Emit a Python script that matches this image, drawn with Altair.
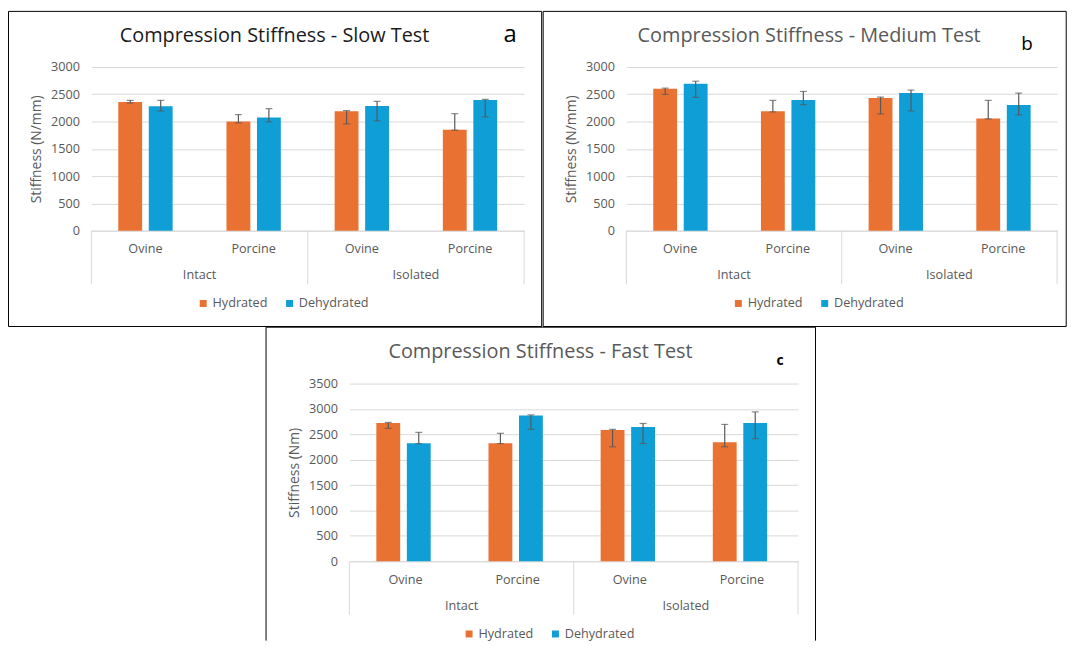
import altair as alt
import pandas as pd

# ---------------- data ----------------
groups = ["Intact", "Intact", "Isolated", "Isolated"]
species = ["Ovine", "Porcine", "Ovine", "Porcine"]
conditions = ["Hydrated", "Dehydrated"]
colors = ["#E97132", "#0F9ED5"]

# Slow test (a)
slow_hyd = [2358, 2000, 2188, 1848]
slow_hyd_lo = [2339, 1976, 1957, 1842]
slow_hyd_hi = [2388, 2127, 2200, 2145]
slow_deh = [2279, 2073, 2285, 2394]
slow_deh_lo = [2194, 1994, 2012, 2085]
slow_deh_hi = [2388, 2236, 2370, 2406]

# Medium test (b)
med_hyd = [2600, 2188, 2430, 2054]
med_hyd_lo = [2497, 2176, 2139, 2048]
med_hyd_hi = [2612, 2388, 2448, 2388]
med_deh = [2691, 2394, 2521, 2303]
med_deh_lo = [2442, 2309, 2194, 2121]
med_deh_hi = [2739, 2551, 2576, 2521]

# Fast test (c)
fast_hyd = [2721, 2325, 2585, 2344]
fast_hyd_lo = [2617, 2318, 2253, 2253]
fast_hyd_hi = [2734, 2520, 2598, 2695]
fast_deh = [2325, 2870, 2643, 2721]
fast_deh_lo = [2318, 2598, 2318, 2416]
fast_deh_hi = [2539, 2883, 2714, 2942]

ticks_3000 = [0, 500, 1000, 1500, 2000, 2500, 3000]
ticks_3500 = [0, 500, 1000, 1500, 2000, 2500, 3000, 3500]

titles = ["Compression Stiffness - Slow Test",
          "Compression Stiffness - Medium Test",
          "Compression Stiffness - Fast Test"]
letters = ["a", "b", "c"]
y_titles = ["Stiffness (N/mm)", "Stiffness (N/mm)", "Stiffness (Nm)"]

FONT = "Open Sans"
GREY = "#595959"
GRID = "#d9d9d9"
LBL = 12.75

keys = [g + "|" + s for g, s in zip(groups, species)]


def make_df(hyd, hyd_lo, hyd_hi, deh, deh_lo, deh_hi):
    rows = []
    for i in range(len(keys)):
        rows.append(dict(key=keys[i], cond=conditions[0], value=hyd[i], lo=hyd_lo[i], hi=hyd_hi[i]))
        rows.append(dict(key=keys[i], cond=conditions[1], value=deh[i], lo=deh_lo[i], hi=deh_hi[i]))
    return pd.DataFrame(rows)


def panel(df, title, title_color, letter, letter_size, letter_weight, letter_xy,
          ymax, yticks, ytitle, w, h, pi, po, box, title_x, legend_x,
          open_box=False):
    xscale = alt.Scale(domain=keys, paddingInner=0, paddingOuter=0)
    xaxis = alt.Axis(labelExpr="split(datum.label, '|')[1]", labelAngle=0,
                     labelFont=FONT, labelFontSize=LBL, labelColor=GREY,
                     ticks=False, tickSize=0, domain=True, domainColor=GRID,
                     domainWidth=1, labelPadding=12, grid=False, title=None)

    def X(bp=None):
        kw = dict(scale=xscale, axis=xaxis, title=None)
        if bp is not None:
            kw["bandPosition"] = bp
        return alt.X("key:N", **kw)

    yscale = alt.Scale(domain=[0, ymax], nice=False, zero=True)
    yaxis = alt.Axis(values=yticks, format="d", labelFont=FONT, labelFontSize=LBL,
                     labelColor=GREY, domain=False, ticks=False, tickSize=0,
                     labelPadding=12, grid=True, gridColor=GRID, gridWidth=1,
                     titleFont=FONT, titleFontSize=14, titleFontWeight="normal",
                     titleColor=GREY, titlePadding=7)

    def Y(field):
        return alt.Y(field, scale=yscale, axis=yaxis, title=ytitle)

    xoff = alt.XOffset("cond:N", scale=alt.Scale(domain=conditions, paddingInner=pi, paddingOuter=po))

    bars = alt.Chart(df).mark_bar().encode(
        x=X(), xOffset=xoff, y=Y("value:Q"),
        color=alt.Color("cond:N", scale=alt.Scale(domain=conditions, range=colors),
                        legend=alt.Legend(title=None, orient="none", direction="horizontal",
                                          legendX=legend_x, legendY=h + 66.5,
                                          symbolType="square", symbolSize=49,
                                          symbolStrokeWidth=0, labelFont=FONT,
                                          labelFontSize=LBL, labelColor=GREY,
                                          labelOffset=3, columnPadding=15, padding=0)),
    )
    err = alt.Chart(df).mark_rule(color=GREY, strokeWidth=1.2).encode(
        x=X(), xOffset=xoff, y=Y("lo:Q"), y2="hi:Q")
    cap_lo = alt.Chart(df).mark_tick(color=GREY, size=7, thickness=1.2).encode(
        x=X(), xOffset=xoff, y=Y("lo:Q"))
    cap_hi = alt.Chart(df).mark_tick(color=GREY, size=7, thickness=1.2).encode(
        x=X(), xOffset=xoff, y=Y("hi:Q"))

    first_keys = [k for i, k in enumerate(keys) if i == 0 or groups[i] != groups[i - 1]]
    first_groups = [groups[keys.index(k)] for k in first_keys]
    sep_df = pd.DataFrame({"key": first_keys})
    end_df = pd.DataFrame({"key": [keys[-1]]})
    grp_df = pd.DataFrame({"key": first_keys, "label": first_groups})

    sep = alt.Chart(sep_df).mark_rule(color=GRID, strokeWidth=1).encode(
        x=X(0), y=alt.value(h), y2=alt.value(h + 54))
    sep_end = alt.Chart(end_df).mark_rule(color=GRID, strokeWidth=1).encode(
        x=X(1), y=alt.value(h), y2=alt.value(h + 54))
    grp = alt.Chart(grp_df).mark_text(font=FONT, fontSize=LBL, color=GREY,
                                      baseline="middle", align="center").encode(
        x=X(1), y=alt.value(h + 45), text="label:N")

    tdf = pd.DataFrame({"title": [title], "letter": [letter]})
    ttl = alt.Chart(tdf).mark_text(font=FONT, fontSize=20, color=title_color,
                                   align="center", baseline="middle").encode(
        x=alt.value(title_x), y=alt.value(-31.5), text="title:N")
    let = alt.Chart(tdf).mark_text(font=FONT, fontSize=letter_size, color="#000000",
                                   fontWeight=letter_weight, align="center",
                                   baseline="middle").encode(
        x=alt.value(letter_xy[0]), y=alt.value(letter_xy[1]), text="letter:N")

    layers = [bars, err, cap_lo, cap_hi, sep, sep_end, grp, ttl, let]
    if not open_box:
        layers.append(alt.Chart(tdf).mark_rect(fillOpacity=0, stroke="#000000", strokeWidth=1).encode(
            x=alt.value(box[0]), x2=alt.value(box[1]), y=alt.value(box[2]), y2=alt.value(box[3])))
    else:
        for xv in (box[0], box[1]):
            layers.append(alt.Chart(tdf).mark_rule(color="#000000", strokeWidth=1).encode(
                x=alt.value(xv), y=alt.value(box[2]), y2=alt.value(box[3])))
        layers.append(alt.Chart(tdf).mark_rule(color="#000000", strokeWidth=1).encode(
            x=alt.value(box[0]), x2=alt.value(box[1]), y=alt.value(box[2])))
    return alt.layer(*layers).properties(width=w, height=h)


WA, WB, WC = 436, 434, 452
H1, HC = 165, 179

pa = panel(make_df(slow_hyd, slow_hyd_lo, slow_hyd_hi, slow_deh, slow_deh_lo, slow_deh_hi),
           titles[0], "#1a1a1a", letters[0], 24, "normal", (422, -32.5),
           3000, ticks_3000, y_titles[0], WA, H1, 0.218, 0.883,
           (-83.5, WA + 17.7, -56, H1 + 96.5), 184.6, 106.3)
pb = panel(make_df(med_hyd, med_hyd_lo, med_hyd_hi, med_deh, med_deh_lo, med_deh_hi),
           titles[1], GREY, letters[1], 19, "normal", (403.7, -23.5),
           3000, ticks_3000, y_titles[1], WB, H1, 0.218, 0.883,
           (-83.8, WB + 9.2, -56, H1 + 96.5), 184.2, 106.5)
pc = panel(make_df(fast_hyd, fast_hyd_lo, fast_hyd_hi, fast_deh, fast_deh_lo, fast_deh_hi),
           titles[2], GREY, letters[2], 14, "bold", (434, -22.8),
           3500, ticks_3500, y_titles[2], WC, HC, 0.209, 0.894,
           (-84, WC + 17.6, -56.8, HC + 80), 192.5, 114.2,
           open_box=True)

# invisible spacer that shifts panel c to the right
SPACER_W = 175
spacer = alt.Chart(pd.DataFrame({"s": [0]})).mark_rect(opacity=0).encode(
    x=alt.value(0), x2=alt.value(SPACER_W), y=alt.value(0), y2=alt.value(1)
).properties(width=SPACER_W, height=1)

top = alt.hconcat(pa, pb, spacing=-1).resolve_scale(color="independent")
bottom = alt.hconcat(spacer, pc, spacing=0).resolve_scale(color="independent")
chart = alt.vconcat(top, bottom, spacing=-1).resolve_scale(
    color="independent"
).properties(padding=0, background="white").configure_view(stroke=None)

chart.save("out.html", embed_options={"renderer": "svg", "actions": False})
